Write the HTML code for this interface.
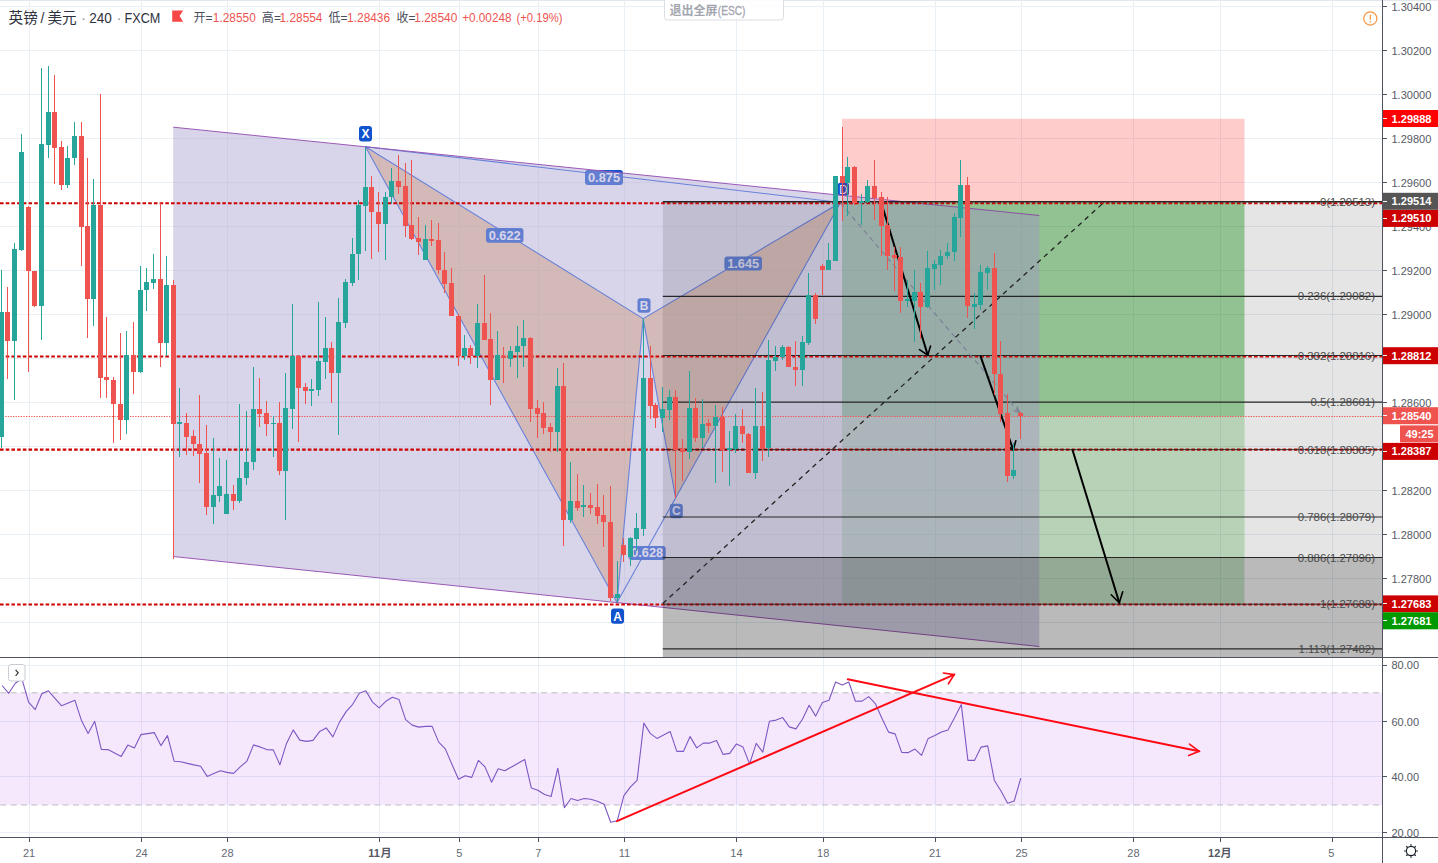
<!DOCTYPE html>
<html><head><meta charset="utf-8"><title>GBPUSD 240</title>
<style>html,body{margin:0;padding:0;background:#fff;}body{width:1438px;height:863px;overflow:hidden;position:relative;font-family:"Liberation Sans", sans-serif;}</style>
</head><body>
<svg width="1438" height="863" viewBox="0 0 1438 863" style="position:absolute;left:0;top:0;font-family:'Liberation Sans',sans-serif">
<defs>
<clipPath id="cm"><rect x="0" y="0" width="1382.5" height="657"/></clipPath>
<clipPath id="cr"><rect x="0" y="658" width="1382.5" height="179.5"/></clipPath>
<clipPath id="cch"><polygon points="173.2,127.2 1039.3,215.5 1039.3,646.5 173.2,556.5"/></clipPath>
</defs>
<rect width="1438" height="863" fill="#fff"/>
<rect x="0" y="0" width="1438" height="1" fill="#e3e8f0"/>
<g stroke="#e8eff5" stroke-width="1" shape-rendering="crispEdges">
<line x1="29.5" y1="0" x2="29.5" y2="837.5"/>
<line x1="141.5" y1="0" x2="141.5" y2="837.5"/>
<line x1="227.5" y1="0" x2="227.5" y2="837.5"/>
<line x1="379.5" y1="0" x2="379.5" y2="837.5"/>
<line x1="459.5" y1="0" x2="459.5" y2="837.5"/>
<line x1="538.5" y1="0" x2="538.5" y2="837.5"/>
<line x1="624.5" y1="0" x2="624.5" y2="837.5"/>
<line x1="736.5" y1="0" x2="736.5" y2="837.5"/>
<line x1="823.5" y1="0" x2="823.5" y2="837.5"/>
<line x1="935.5" y1="0" x2="935.5" y2="837.5"/>
<line x1="1021.5" y1="0" x2="1021.5" y2="837.5"/>
<line x1="1133.5" y1="0" x2="1133.5" y2="837.5"/>
<line x1="1220.5" y1="0" x2="1220.5" y2="837.5"/>
<line x1="1332.5" y1="0" x2="1332.5" y2="837.5"/>
<line x1="0" y1="6.5" x2="1382.5" y2="6.5"/>
<line x1="0" y1="50.5" x2="1382.5" y2="50.5"/>
<line x1="0" y1="94.5" x2="1382.5" y2="94.5"/>
<line x1="0" y1="138.5" x2="1382.5" y2="138.5"/>
<line x1="0" y1="182.5" x2="1382.5" y2="182.5"/>
<line x1="0" y1="226.5" x2="1382.5" y2="226.5"/>
<line x1="0" y1="270.5" x2="1382.5" y2="270.5"/>
<line x1="0" y1="314.5" x2="1382.5" y2="314.5"/>
<line x1="0" y1="358.5" x2="1382.5" y2="358.5"/>
<line x1="0" y1="402.5" x2="1382.5" y2="402.5"/>
<line x1="0" y1="446.5" x2="1382.5" y2="446.5"/>
<line x1="0" y1="490.5" x2="1382.5" y2="490.5"/>
<line x1="0" y1="534.5" x2="1382.5" y2="534.5"/>
<line x1="0" y1="578.5" x2="1382.5" y2="578.5"/>
<line x1="0" y1="622.5" x2="1382.5" y2="622.5"/>
<line x1="0" y1="665.5" x2="1382.5" y2="665.5"/>
<line x1="0" y1="721.5" x2="1382.5" y2="721.5"/>
<line x1="0" y1="776.5" x2="1382.5" y2="776.5"/>
<line x1="0" y1="832.5" x2="1382.5" y2="832.5"/>
</g>
<g clip-path="url(#cm)">
<polygon points="365.5,146.7 617,602.5 643.2,318.6" fill="rgba(236,146,56,0.5)"/><polygon points="643.2,318.6 675.6,498 840.5,202.5" fill="rgba(236,146,56,0.5)"/>
<g stroke="#1f5bde" stroke-width="1.1" fill="none"><polyline points="365.5,146.7 617,602.5 643.2,318.6 675.6,498 840.5,202.5"/><polyline points="365.5,146.7 643.2,318.6 840.5,202.5 365.5,146.7"/><line x1="617" y1="602.5" x2="675.6" y2="498"/></g>
<g><rect x="837.55" y="182.7" width="11.5" height="13" rx="3" fill="#1152cd"/><text x="843.3" y="193.51999999999998" font-size="12" fill="#e6e4f7" text-anchor="middle">D</text></g>
<g><rect x="359.0" y="126.05000000000001" width="13" height="15.5" rx="3" fill="#1152cd"/><text x="365.5" y="138.12" font-size="12" font-weight="bold" fill="#fff" text-anchor="middle">X</text></g>
<g><rect x="611.0" y="608.6" width="13" height="15.2" rx="3" fill="#1152cd"/><text x="617.5" y="620.5200000000001" font-size="12" font-weight="bold" fill="#fff" text-anchor="middle">A</text></g>
<g><rect x="637.5" y="298.35" width="13" height="14.5" rx="3" fill="#1152cd"/><text x="644" y="309.92" font-size="12" font-weight="bold" fill="#fff" text-anchor="middle">B</text></g>
<g><rect x="669.8" y="503.65" width="13" height="14.5" rx="3" fill="#1152cd"/><text x="676.3" y="515.22" font-size="12" font-weight="bold" fill="#fff" text-anchor="middle">C</text></g>
<g><rect x="585.0" y="170.0" width="38" height="15" rx="3" fill="#1152cd"/><text x="604" y="181.82" font-size="12" font-weight="bold" fill="#fff" text-anchor="middle" textLength="32" lengthAdjust="spacingAndGlyphs">0.875</text></g>
<g><rect x="485.95" y="227.95000000000002" width="37.5" height="14.7" rx="3" fill="#1152cd"/><text x="504.7" y="239.62" font-size="12" font-weight="bold" fill="#fff" text-anchor="middle" textLength="32" lengthAdjust="spacingAndGlyphs">0.622</text></g>
<g><rect x="724.4000000000001" y="256.5" width="37.6" height="14" rx="3" fill="#1152cd"/><text x="743.2" y="267.82" font-size="12" font-weight="bold" fill="#fff" text-anchor="middle" textLength="32" lengthAdjust="spacingAndGlyphs">1.645</text></g>
<g><rect x="628.7" y="546.0" width="37" height="14" rx="3" fill="#1152cd"/><text x="647.2" y="557.32" font-size="12" font-weight="bold" fill="#fff" text-anchor="middle" textLength="32" lengthAdjust="spacingAndGlyphs">0.628</text></g>
<rect x="842" y="118.8" width="402.5" height="83.60000000000001" fill="rgba(255,0,0,0.2)"/>
<rect x="842" y="202.4" width="402.5" height="402.1" fill="rgba(0,150,0,0.2)"/>
<rect x="842" y="202.4" width="402.5" height="213.79999999999998" fill="rgba(0,150,0,0.2)"/>
<polygon points="173.2,127.2 1039.3,215.5 1039.3,646.5 173.2,556.5" fill="rgba(178,169,212,0.5)"/>
<g stroke="#9b59b6" stroke-width="1" fill="none"><line x1="173.2" y1="127.2" x2="1039.3" y2="215.5"/><line x1="173.2" y1="556.5" x2="1039.3" y2="646.5"/></g>
<rect x="662.8" y="201.8" width="719.7" height="355.7" fill="rgba(0,0,0,0.10)"/>
<rect x="662.8" y="557.5" width="719.7" height="99.5" fill="rgba(0,0,0,0.27)"/>
<g stroke="#cc0000" stroke-width="2.1" stroke-dasharray="3.6 2.1">
<line x1="0" y1="203.2" x2="1382.5" y2="203.2"/>
<line x1="0" y1="356.5" x2="1382.5" y2="356.5"/>
<line x1="0" y1="449.6" x2="1382.5" y2="449.6"/>
<line x1="0" y1="604.5" x2="1382.5" y2="604.5"/>
</g>
<g stroke="#262626" stroke-width="1.2">
<line x1="662.8" y1="201.65" x2="1382.5" y2="201.65" stroke-width="1.5"/>
<line x1="662.8" y1="296.3" x2="1382.5" y2="296.3"/>
<line x1="662.8" y1="355.5" x2="1382.5" y2="355.5"/>
<line x1="662.8" y1="402.2" x2="1382.5" y2="402.2"/>
<line x1="662.8" y1="449.6" x2="1382.5" y2="449.6" stroke-width="0.9"/>
<line x1="662.8" y1="517.0" x2="1382.5" y2="517.0"/>
<line x1="662.8" y1="557.5" x2="1382.5" y2="557.5"/>
<line x1="662.8" y1="604.2" x2="1382.5" y2="604.2" stroke-width="0.9"/>
<line x1="662.8" y1="648.9" x2="1382.5" y2="648.9"/>
</g>
<line x1="662.8" y1="603.5" x2="1104" y2="202.3" stroke="#222" stroke-width="1.3" stroke-dasharray="4.8 4.4"/>
<g font-size="11.4" fill="#4a4a4a" text-anchor="end">
<text x="1375" y="205.8">0(1.29513)</text>
<text x="1375" y="300.3">0.236(1.29082)</text>
<text x="1375" y="359.5">0.382(1.28816)</text>
<text x="1375" y="406.2">0.5(1.28601)</text>
<text x="1375" y="453.6">0.618(1.28385)</text>
<text x="1375" y="521.0">0.786(1.28079)</text>
<text x="1375" y="561.5">0.886(1.27896)</text>
<text x="1375" y="608.2">1(1.27688)</text>
<text x="1375" y="652.9">1.113(1.27482)</text>
</g>
<line x1="0" y1="416.5" x2="1382.5" y2="416.5" stroke="#ef5350" stroke-width="1" stroke-dasharray="1.3 1.3"/>
<g stroke="#7d8196" stroke-width="1.2" fill="none"><line x1="840.5" y1="203" x2="1019" y2="412" stroke-dasharray="5 4"/><polyline points="1013.5,410.5 1019.5,412.5 1017,406.5"/></g>
<g stroke="#000" stroke-width="2" fill="none" stroke-linecap="round"><line x1="881.6" y1="203.9" x2="927.8" y2="355.2"/><polyline points="919.5,349.7 927.8,355.2 930.5,346" stroke-width="1.6"/></g>
<g stroke="#000" stroke-width="2" fill="none" stroke-linecap="round"><line x1="980.6" y1="356.4" x2="1013.3" y2="450.2"/><polyline points="1006.2,444.5 1013.3,450.2 1015.8,440.7" stroke-width="1.6"/></g>
<g stroke="#000" stroke-width="2" fill="none" stroke-linecap="round"><line x1="1072.6" y1="450.2" x2="1119.3" y2="602.8"/><polyline points="1111.2,594.8 1119.3,602.8 1122.7,591.7" stroke-width="1.6"/></g>
<g shape-rendering="crispEdges">
<rect x="1" y="270" width="1" height="178" fill="#26a69a"/><rect x="-1" y="312" width="5" height="125" fill="#26a69a"/>
<rect x="7" y="287" width="1" height="92" fill="#ef5350"/><rect x="5" y="312" width="5" height="29" fill="#ef5350"/>
<rect x="14" y="243" width="1" height="157" fill="#26a69a"/><rect x="12" y="249" width="5" height="92" fill="#26a69a"/>
<rect x="21" y="134" width="1" height="117" fill="#26a69a"/><rect x="19" y="152" width="5" height="98" fill="#26a69a"/>
<rect x="28" y="206" width="1" height="166" fill="#ef5350"/><rect x="26" y="207" width="5" height="64" fill="#ef5350"/>
<rect x="34" y="271" width="1" height="36" fill="#ef5350"/><rect x="32" y="271" width="5" height="35" fill="#ef5350"/>
<rect x="41" y="68" width="1" height="272" fill="#26a69a"/><rect x="39" y="144" width="5" height="162" fill="#26a69a"/>
<rect x="48" y="66" width="1" height="92" fill="#26a69a"/><rect x="46" y="112" width="5" height="33" fill="#26a69a"/>
<rect x="54" y="75" width="1" height="109" fill="#ef5350"/><rect x="52" y="112" width="5" height="36" fill="#ef5350"/>
<rect x="61" y="141" width="1" height="49" fill="#ef5350"/><rect x="59" y="147" width="5" height="38" fill="#ef5350"/>
<rect x="67" y="146" width="1" height="42" fill="#26a69a"/><rect x="65" y="158" width="5" height="27" fill="#26a69a"/>
<rect x="74" y="122" width="1" height="43" fill="#26a69a"/><rect x="72" y="136" width="5" height="22" fill="#26a69a"/>
<rect x="81" y="122" width="1" height="144" fill="#ef5350"/><rect x="79" y="136" width="5" height="91" fill="#ef5350"/>
<rect x="87" y="158" width="1" height="180" fill="#ef5350"/><rect x="85" y="226" width="5" height="73" fill="#ef5350"/>
<rect x="93" y="179" width="1" height="147" fill="#26a69a"/><rect x="91" y="205" width="5" height="94" fill="#26a69a"/>
<rect x="100" y="94" width="1" height="304" fill="#ef5350"/><rect x="98" y="205" width="5" height="173" fill="#ef5350"/>
<rect x="106" y="317" width="1" height="81" fill="#ef5350"/><rect x="104" y="377" width="5" height="3" fill="#ef5350"/>
<rect x="113" y="377" width="1" height="66" fill="#ef5350"/><rect x="111" y="380" width="5" height="24" fill="#ef5350"/>
<rect x="120" y="333" width="1" height="107" fill="#ef5350"/><rect x="118" y="404" width="5" height="16" fill="#ef5350"/>
<rect x="126" y="331" width="1" height="103" fill="#26a69a"/><rect x="124" y="355" width="5" height="65" fill="#26a69a"/>
<rect x="133" y="322" width="1" height="72" fill="#ef5350"/><rect x="131" y="355" width="5" height="17" fill="#ef5350"/>
<rect x="140" y="266" width="1" height="107" fill="#26a69a"/><rect x="138" y="290" width="5" height="82" fill="#26a69a"/>
<rect x="146" y="268" width="1" height="43" fill="#26a69a"/><rect x="144" y="282" width="5" height="8" fill="#26a69a"/>
<rect x="153" y="254" width="1" height="35" fill="#26a69a"/><rect x="151" y="279" width="5" height="4" fill="#26a69a"/>
<rect x="160" y="203" width="1" height="164" fill="#ef5350"/><rect x="158" y="279" width="5" height="64" fill="#ef5350"/>
<rect x="166" y="256" width="1" height="100" fill="#26a69a"/><rect x="164" y="285" width="5" height="58" fill="#26a69a"/>
<rect x="173" y="280" width="1" height="279" fill="#ef5350"/><rect x="171" y="285" width="5" height="139" fill="#ef5350"/>
<rect x="179" y="388" width="1" height="69" fill="#26a69a"/><rect x="177" y="422" width="5" height="2" fill="#26a69a"/>
<rect x="186" y="413" width="1" height="42" fill="#ef5350"/><rect x="184" y="423" width="5" height="14" fill="#ef5350"/>
<rect x="193" y="430" width="1" height="26" fill="#ef5350"/><rect x="191" y="436" width="5" height="8" fill="#ef5350"/>
<rect x="199" y="395" width="1" height="88" fill="#ef5350"/><rect x="197" y="444" width="5" height="10" fill="#ef5350"/>
<rect x="206" y="425" width="1" height="90" fill="#ef5350"/><rect x="204" y="453" width="5" height="54" fill="#ef5350"/>
<rect x="213" y="438" width="1" height="86" fill="#26a69a"/><rect x="211" y="495" width="5" height="12" fill="#26a69a"/>
<rect x="219" y="458" width="1" height="44" fill="#26a69a"/><rect x="217" y="486" width="5" height="10" fill="#26a69a"/>
<rect x="226" y="460" width="1" height="54" fill="#26a69a"/><rect x="224" y="494" width="5" height="20" fill="#26a69a"/>
<rect x="233" y="485" width="1" height="25" fill="#ef5350"/><rect x="231" y="494" width="5" height="7" fill="#ef5350"/>
<rect x="239" y="404" width="1" height="99" fill="#26a69a"/><rect x="237" y="478" width="5" height="23" fill="#26a69a"/>
<rect x="246" y="411" width="1" height="74" fill="#26a69a"/><rect x="244" y="462" width="5" height="16" fill="#26a69a"/>
<rect x="253" y="367" width="1" height="103" fill="#26a69a"/><rect x="251" y="409" width="5" height="53" fill="#26a69a"/>
<rect x="259" y="378" width="1" height="49" fill="#ef5350"/><rect x="257" y="409" width="5" height="5" fill="#ef5350"/>
<rect x="266" y="401" width="1" height="35" fill="#ef5350"/><rect x="264" y="413" width="5" height="11" fill="#ef5350"/>
<rect x="273" y="416" width="1" height="41" fill="#26a69a"/><rect x="271" y="423" width="5" height="1" fill="#26a69a"/>
<rect x="279" y="402" width="1" height="73" fill="#ef5350"/><rect x="277" y="423" width="5" height="48" fill="#ef5350"/>
<rect x="285" y="373" width="1" height="147" fill="#26a69a"/><rect x="283" y="408" width="5" height="63" fill="#26a69a"/>
<rect x="292" y="304" width="1" height="125" fill="#26a69a"/><rect x="290" y="356" width="5" height="53" fill="#26a69a"/>
<rect x="298" y="355" width="1" height="87" fill="#ef5350"/><rect x="296" y="356" width="5" height="32" fill="#ef5350"/>
<rect x="305" y="383" width="1" height="21" fill="#ef5350"/><rect x="303" y="387" width="5" height="4" fill="#ef5350"/>
<rect x="311" y="379" width="1" height="27" fill="#26a69a"/><rect x="309" y="389" width="5" height="2" fill="#26a69a"/>
<rect x="318" y="302" width="1" height="94" fill="#26a69a"/><rect x="316" y="361" width="5" height="29" fill="#26a69a"/>
<rect x="325" y="317" width="1" height="62" fill="#26a69a"/><rect x="323" y="348" width="5" height="14" fill="#26a69a"/>
<rect x="331" y="342" width="1" height="61" fill="#ef5350"/><rect x="329" y="348" width="5" height="25" fill="#ef5350"/>
<rect x="338" y="298" width="1" height="137" fill="#26a69a"/><rect x="336" y="322" width="5" height="51" fill="#26a69a"/>
<rect x="345" y="279" width="1" height="49" fill="#26a69a"/><rect x="343" y="282" width="5" height="41" fill="#26a69a"/>
<rect x="352" y="238" width="1" height="48" fill="#26a69a"/><rect x="350" y="254" width="5" height="29" fill="#26a69a"/>
<rect x="358" y="200" width="1" height="80" fill="#26a69a"/><rect x="356" y="205" width="5" height="49" fill="#26a69a"/>
<rect x="365" y="147" width="1" height="104" fill="#26a69a"/><rect x="363" y="187" width="5" height="19" fill="#26a69a"/>
<rect x="371" y="176" width="1" height="83" fill="#ef5350"/><rect x="369" y="187" width="5" height="25" fill="#ef5350"/>
<rect x="378" y="192" width="1" height="60" fill="#ef5350"/><rect x="376" y="212" width="5" height="12" fill="#ef5350"/>
<rect x="385" y="192" width="1" height="68" fill="#26a69a"/><rect x="383" y="197" width="5" height="27" fill="#26a69a"/>
<rect x="391" y="168" width="1" height="36" fill="#26a69a"/><rect x="389" y="181" width="5" height="16" fill="#26a69a"/>
<rect x="398" y="155" width="1" height="39" fill="#ef5350"/><rect x="396" y="181" width="5" height="6" fill="#ef5350"/>
<rect x="405" y="163" width="1" height="74" fill="#ef5350"/><rect x="403" y="186" width="5" height="40" fill="#ef5350"/>
<rect x="411" y="160" width="1" height="80" fill="#ef5350"/><rect x="409" y="225" width="5" height="14" fill="#ef5350"/>
<rect x="418" y="217" width="1" height="38" fill="#ef5350"/><rect x="416" y="238" width="5" height="4" fill="#ef5350"/>
<rect x="425" y="225" width="1" height="35" fill="#26a69a"/><rect x="423" y="239" width="5" height="21" fill="#26a69a"/>
<rect x="431" y="220" width="1" height="26" fill="#ef5350"/><rect x="429" y="239" width="5" height="2" fill="#ef5350"/>
<rect x="438" y="223" width="1" height="51" fill="#ef5350"/><rect x="436" y="240" width="5" height="30" fill="#ef5350"/>
<rect x="444" y="252" width="1" height="41" fill="#ef5350"/><rect x="442" y="270" width="5" height="14" fill="#ef5350"/>
<rect x="451" y="268" width="1" height="48" fill="#ef5350"/><rect x="449" y="283" width="5" height="33" fill="#ef5350"/>
<rect x="458" y="314" width="1" height="52" fill="#ef5350"/><rect x="456" y="316" width="5" height="40" fill="#ef5350"/>
<rect x="464" y="335" width="1" height="25" fill="#26a69a"/><rect x="462" y="348" width="5" height="8" fill="#26a69a"/>
<rect x="470" y="345" width="1" height="19" fill="#ef5350"/><rect x="468" y="348" width="5" height="8" fill="#ef5350"/>
<rect x="477" y="304" width="1" height="64" fill="#26a69a"/><rect x="475" y="323" width="5" height="33" fill="#26a69a"/>
<rect x="484" y="275" width="1" height="65" fill="#ef5350"/><rect x="482" y="323" width="5" height="17" fill="#ef5350"/>
<rect x="490" y="313" width="1" height="92" fill="#ef5350"/><rect x="488" y="339" width="5" height="41" fill="#ef5350"/>
<rect x="497" y="331" width="1" height="49" fill="#26a69a"/><rect x="495" y="355" width="5" height="25" fill="#26a69a"/>
<rect x="503" y="347" width="1" height="36" fill="#ef5350"/><rect x="501" y="356" width="5" height="2" fill="#ef5350"/>
<rect x="510" y="346" width="1" height="21" fill="#26a69a"/><rect x="508" y="351" width="5" height="8" fill="#26a69a"/>
<rect x="517" y="326" width="1" height="52" fill="#26a69a"/><rect x="515" y="346" width="5" height="6" fill="#26a69a"/>
<rect x="523" y="320" width="1" height="47" fill="#26a69a"/><rect x="521" y="338" width="5" height="8" fill="#26a69a"/>
<rect x="530" y="337" width="1" height="85" fill="#ef5350"/><rect x="528" y="338" width="5" height="71" fill="#ef5350"/>
<rect x="537" y="400" width="1" height="38" fill="#ef5350"/><rect x="535" y="408" width="5" height="6" fill="#ef5350"/>
<rect x="543" y="402" width="1" height="32" fill="#ef5350"/><rect x="541" y="413" width="5" height="15" fill="#ef5350"/>
<rect x="550" y="423" width="1" height="29" fill="#ef5350"/><rect x="548" y="427" width="5" height="5" fill="#ef5350"/>
<rect x="557" y="368" width="1" height="84" fill="#26a69a"/><rect x="555" y="386" width="5" height="46" fill="#26a69a"/>
<rect x="563" y="363" width="1" height="183" fill="#ef5350"/><rect x="561" y="386" width="5" height="134" fill="#ef5350"/>
<rect x="570" y="462" width="1" height="61" fill="#26a69a"/><rect x="568" y="501" width="5" height="19" fill="#26a69a"/>
<rect x="577" y="474" width="1" height="37" fill="#ef5350"/><rect x="575" y="501" width="5" height="7" fill="#ef5350"/>
<rect x="583" y="485" width="1" height="32" fill="#26a69a"/><rect x="581" y="505" width="5" height="2" fill="#26a69a"/>
<rect x="590" y="493" width="1" height="21" fill="#ef5350"/><rect x="588" y="505" width="5" height="3" fill="#ef5350"/>
<rect x="597" y="484" width="1" height="40" fill="#ef5350"/><rect x="595" y="507" width="5" height="9" fill="#ef5350"/>
<rect x="603" y="495" width="1" height="52" fill="#ef5350"/><rect x="601" y="515" width="5" height="7" fill="#ef5350"/>
<rect x="610" y="486" width="1" height="115" fill="#ef5350"/><rect x="608" y="522" width="5" height="76" fill="#ef5350"/>
<rect x="617" y="561" width="1" height="41" fill="#26a69a"/><rect x="615" y="594" width="5" height="4" fill="#26a69a"/>
<rect x="623" y="538" width="1" height="24" fill="#ef5350"/><rect x="621" y="545" width="5" height="10" fill="#ef5350"/>
<rect x="630" y="537" width="1" height="29" fill="#26a69a"/><rect x="628" y="538" width="5" height="19" fill="#26a69a"/>
<rect x="636" y="513" width="1" height="38" fill="#26a69a"/><rect x="634" y="528" width="5" height="11" fill="#26a69a"/>
<rect x="643" y="319" width="1" height="217" fill="#26a69a"/><rect x="641" y="378" width="5" height="151" fill="#26a69a"/>
<rect x="650" y="346" width="1" height="73" fill="#ef5350"/><rect x="648" y="378" width="5" height="28" fill="#ef5350"/>
<rect x="655" y="403" width="1" height="25" fill="#ef5350"/><rect x="653" y="405" width="5" height="13" fill="#ef5350"/>
<rect x="662" y="387" width="1" height="45" fill="#26a69a"/><rect x="660" y="409" width="5" height="9" fill="#26a69a"/>
<rect x="669" y="390" width="1" height="30" fill="#26a69a"/><rect x="667" y="397" width="5" height="13" fill="#26a69a"/>
<rect x="675" y="390" width="1" height="108" fill="#ef5350"/><rect x="673" y="397" width="5" height="53" fill="#ef5350"/>
<rect x="682" y="439" width="1" height="42" fill="#ef5350"/><rect x="680" y="449" width="5" height="3" fill="#ef5350"/>
<rect x="689" y="371" width="1" height="88" fill="#26a69a"/><rect x="687" y="408" width="5" height="44" fill="#26a69a"/>
<rect x="695" y="398" width="1" height="44" fill="#ef5350"/><rect x="693" y="408" width="5" height="30" fill="#ef5350"/>
<rect x="702" y="399" width="1" height="49" fill="#26a69a"/><rect x="700" y="424" width="5" height="14" fill="#26a69a"/>
<rect x="708" y="419" width="1" height="14" fill="#ef5350"/><rect x="706" y="423" width="5" height="3" fill="#ef5350"/>
<rect x="715" y="405" width="1" height="78" fill="#26a69a"/><rect x="713" y="417" width="5" height="9" fill="#26a69a"/>
<rect x="722" y="407" width="1" height="65" fill="#ef5350"/><rect x="720" y="417" width="5" height="33" fill="#ef5350"/>
<rect x="729" y="431" width="1" height="55" fill="#26a69a"/><rect x="727" y="448" width="5" height="2" fill="#26a69a"/>
<rect x="735" y="414" width="1" height="39" fill="#26a69a"/><rect x="733" y="426" width="5" height="23" fill="#26a69a"/>
<rect x="742" y="409" width="1" height="34" fill="#ef5350"/><rect x="740" y="426" width="5" height="8" fill="#ef5350"/>
<rect x="748" y="433" width="1" height="40" fill="#ef5350"/><rect x="746" y="434" width="5" height="39" fill="#ef5350"/>
<rect x="755" y="388" width="1" height="91" fill="#26a69a"/><rect x="753" y="426" width="5" height="47" fill="#26a69a"/>
<rect x="762" y="392" width="1" height="69" fill="#ef5350"/><rect x="760" y="426" width="5" height="23" fill="#ef5350"/>
<rect x="768" y="340" width="1" height="117" fill="#26a69a"/><rect x="766" y="360" width="5" height="88" fill="#26a69a"/>
<rect x="775" y="346" width="1" height="25" fill="#26a69a"/><rect x="773" y="357" width="5" height="4" fill="#26a69a"/>
<rect x="782" y="345" width="1" height="15" fill="#26a69a"/><rect x="780" y="347" width="5" height="10" fill="#26a69a"/>
<rect x="788" y="346" width="1" height="21" fill="#ef5350"/><rect x="786" y="347" width="5" height="20" fill="#ef5350"/>
<rect x="795" y="341" width="1" height="45" fill="#ef5350"/><rect x="793" y="367" width="5" height="3" fill="#ef5350"/>
<rect x="802" y="336" width="1" height="50" fill="#26a69a"/><rect x="800" y="342" width="5" height="28" fill="#26a69a"/>
<rect x="808" y="273" width="1" height="72" fill="#26a69a"/><rect x="806" y="295" width="5" height="48" fill="#26a69a"/>
<rect x="815" y="293" width="1" height="31" fill="#ef5350"/><rect x="813" y="295" width="5" height="24" fill="#ef5350"/>
<rect x="822" y="264" width="1" height="31" fill="#ef5350"/><rect x="820" y="266" width="5" height="4" fill="#ef5350"/>
<rect x="828" y="243" width="1" height="27" fill="#26a69a"/><rect x="826" y="260" width="5" height="10" fill="#26a69a"/>
<rect x="835" y="176" width="1" height="85" fill="#26a69a"/><rect x="833" y="176" width="5" height="85" fill="#26a69a"/>
<rect x="842" y="127" width="1" height="94" fill="#ef5350"/><rect x="840" y="176" width="5" height="7" fill="#ef5350"/>
<rect x="847" y="157" width="1" height="59" fill="#26a69a"/><rect x="845" y="167" width="5" height="16" fill="#26a69a"/>
<rect x="854" y="166" width="1" height="39" fill="#ef5350"/><rect x="852" y="167" width="5" height="36" fill="#ef5350"/>
<rect x="861" y="194" width="1" height="31" fill="#26a69a"/><rect x="859" y="201" width="5" height="2" fill="#26a69a"/>
<rect x="867" y="180" width="1" height="23" fill="#26a69a"/><rect x="865" y="186" width="5" height="16" fill="#26a69a"/>
<rect x="874" y="160" width="1" height="60" fill="#ef5350"/><rect x="872" y="186" width="5" height="12" fill="#ef5350"/>
<rect x="881" y="192" width="1" height="64" fill="#ef5350"/><rect x="879" y="197" width="5" height="29" fill="#ef5350"/>
<rect x="887" y="197" width="1" height="73" fill="#ef5350"/><rect x="885" y="225" width="5" height="31" fill="#ef5350"/>
<rect x="894" y="247" width="1" height="44" fill="#ef5350"/><rect x="892" y="255" width="5" height="3" fill="#ef5350"/>
<rect x="900" y="247" width="1" height="66" fill="#ef5350"/><rect x="898" y="257" width="5" height="44" fill="#ef5350"/>
<rect x="907" y="280" width="1" height="27" fill="#26a69a"/><rect x="905" y="299" width="5" height="2" fill="#26a69a"/>
<rect x="914" y="270" width="1" height="72" fill="#26a69a"/><rect x="912" y="292" width="5" height="9" fill="#26a69a"/>
<rect x="920" y="283" width="1" height="56" fill="#ef5350"/><rect x="918" y="292" width="5" height="15" fill="#ef5350"/>
<rect x="927" y="251" width="1" height="57" fill="#26a69a"/><rect x="925" y="268" width="5" height="39" fill="#26a69a"/>
<rect x="934" y="260" width="1" height="30" fill="#26a69a"/><rect x="932" y="264" width="5" height="5" fill="#26a69a"/>
<rect x="940" y="250" width="1" height="35" fill="#26a69a"/><rect x="938" y="256" width="5" height="9" fill="#26a69a"/>
<rect x="947" y="243" width="1" height="16" fill="#26a69a"/><rect x="945" y="252" width="5" height="4" fill="#26a69a"/>
<rect x="954" y="213" width="1" height="48" fill="#26a69a"/><rect x="952" y="217" width="5" height="35" fill="#26a69a"/>
<rect x="960" y="160" width="1" height="77" fill="#26a69a"/><rect x="958" y="185" width="5" height="33" fill="#26a69a"/>
<rect x="967" y="177" width="1" height="141" fill="#ef5350"/><rect x="965" y="185" width="5" height="121" fill="#ef5350"/>
<rect x="974" y="293" width="1" height="36" fill="#26a69a"/><rect x="972" y="304" width="5" height="3" fill="#26a69a"/>
<rect x="980" y="265" width="1" height="45" fill="#26a69a"/><rect x="978" y="272" width="5" height="33" fill="#26a69a"/>
<rect x="987" y="266" width="1" height="24" fill="#26a69a"/><rect x="985" y="268" width="5" height="5" fill="#26a69a"/>
<rect x="994" y="253" width="1" height="142" fill="#ef5350"/><rect x="992" y="268" width="5" height="106" fill="#ef5350"/>
<rect x="1000" y="341" width="1" height="81" fill="#ef5350"/><rect x="998" y="374" width="5" height="40" fill="#ef5350"/>
<rect x="1007" y="394" width="1" height="88" fill="#ef5350"/><rect x="1005" y="413" width="5" height="63" fill="#ef5350"/>
<rect x="1013" y="443" width="1" height="36" fill="#26a69a"/><rect x="1011" y="470" width="5" height="6" fill="#26a69a"/>
<rect x="1020" y="412" width="1" height="27" fill="#ef5350"/><rect x="1018" y="413" width="5" height="3" fill="#ef5350"/>
</g>
</g>
<g clip-path="url(#cr)">
<rect x="0" y="692.8" width="1382.5" height="112.20000000000005" fill="rgba(156,39,240,0.105)"/>
<g stroke="#bdbdbd" stroke-width="1" stroke-dasharray="5.8 4.6" stroke-dashoffset="-0.3"><line x1="0" y1="692.8" x2="1382.5" y2="692.8"/><line x1="0" y1="805" x2="1382.5" y2="805"/></g>
<polyline points="2.1,685.5 8.7,693.3 15.3,683.3 21.9,678.8 28.6,702.1 35.2,709.6 41.8,693.8 48.4,690.8 55.0,698.3 61.6,705.8 68.2,703.1 74.9,700.3 81.5,720.6 88.1,733.4 94.7,721.3 101.3,749.4 107.9,749.6 114.6,753.1 121.2,756.4 127.8,745.1 134.4,747.9 141.0,734.6 147.6,733.6 154.2,732.6 160.9,745.6 167.5,735.6 174.1,761.2 180.7,761.7 187.3,763.4 193.9,764.9 200.6,766.2 207.2,776.4 213.8,773.4 220.4,770.7 227.0,772.4 233.6,773.4 240.2,766.9 246.9,761.2 253.5,744.9 260.1,746.9 266.7,749.6 273.3,749.9 279.9,764.7 286.5,743.4 293.2,729.9 299.8,740.1 306.4,741.4 313.0,740.4 319.6,731.6 326.2,727.9 332.9,736.9 339.5,722.1 346.1,711.6 352.7,704.3 359.3,693.3 365.9,690.8 372.5,702.1 379.2,707.8 385.8,701.3 392.4,697.3 399.0,699.6 405.6,719.6 412.2,725.1 418.8,727.1 425.5,726.4 432.1,726.4 438.7,742.1 445.3,748.9 451.9,764.2 458.5,779.2 465.2,775.7 471.8,777.4 478.4,760.4 485.0,766.9 491.6,782.2 498.2,768.7 504.8,770.7 511.5,766.9 518.1,763.2 524.7,759.4 531.3,787.9 537.9,790.2 544.5,794.5 551.1,796.5 557.8,768.2 564.4,807.7 571.0,798.5 577.6,800.5 584.2,798.5 590.8,799.2 597.4,801.2 604.1,804.2 610.7,822.3 617.3,820.7 623.9,795.7 630.5,786.9 637.1,780.4 643.8,723.1 650.4,733.6 657.0,738.4 663.6,735.1 670.2,731.6 676.8,751.4 683.4,751.4 690.1,736.6 696.7,747.9 703.3,743.1 709.9,743.1 716.5,740.6 723.1,754.4 729.7,753.4 736.4,743.9 743.0,747.1 749.6,763.9 756.2,743.4 762.8,752.1 769.4,721.3 776.1,720.1 782.7,717.6 789.3,726.9 795.9,728.9 802.5,719.3 809.1,705.3 815.7,716.1 822.4,702.6 829.0,700.3 835.6,682.0 842.2,685.0 848.8,682.0 855.4,701.3 862.0,701.1 868.7,696.6 875.3,703.6 881.9,718.3 888.5,732.1 895.1,733.9 901.7,752.4 908.4,752.6 915.0,749.1 921.6,755.4 928.2,738.4 934.8,735.6 941.4,732.1 948.0,729.9 954.7,717.6 961.3,704.6 967.9,760.4 974.5,760.4 981.1,747.1 987.7,745.9 994.3,780.2 1001.0,791.0 1007.6,803.2 1014.2,801.0 1020.8,778.2" fill="none" stroke="#7e57c2" stroke-width="1.1" stroke-linejoin="round"/>
<g stroke="#ff0a14" stroke-width="2" fill="none" stroke-linecap="round"><line x1="616.9" y1="821.2" x2="954.2" y2="674.6"/><polyline points="943.4,673 954.2,674.6 948.4,683.8" stroke-width="1.6"/></g>
<g stroke="#ff0a14" stroke-width="2" fill="none" stroke-linecap="round"><line x1="847.8" y1="679.3" x2="1199.1" y2="751.3"/><polyline points="1189.5,744.1 1199.1,751.3 1188.6,755.5" stroke-width="1.6"/></g>
</g>
<rect x="8.5" y="664.5" width="16.5" height="16.5" rx="2.5" fill="#fff" stroke="#c9ccd3" stroke-width="1"/>
<polyline points="15.6,669.8 18.2,672.8 15.6,675.8" fill="none" stroke="#333" stroke-width="1.2"/>
<g fill="#4f5360" shape-rendering="crispEdges">
<rect x="0" y="657" width="1438" height="1"/>
<rect x="0" y="837" width="1438" height="1"/>
<rect x="1382" y="0" width="1" height="863"/>
</g>
<g stroke="#4f5360" stroke-width="1" shape-rendering="crispEdges">
<line x1="1383" y1="6.5" x2="1387" y2="6.5"/>
<line x1="1383" y1="50.5" x2="1387" y2="50.5"/>
<line x1="1383" y1="94.5" x2="1387" y2="94.5"/>
<line x1="1383" y1="138.5" x2="1387" y2="138.5"/>
<line x1="1383" y1="182.5" x2="1387" y2="182.5"/>
<line x1="1383" y1="226.5" x2="1387" y2="226.5"/>
<line x1="1383" y1="270.5" x2="1387" y2="270.5"/>
<line x1="1383" y1="314.5" x2="1387" y2="314.5"/>
<line x1="1383" y1="358.5" x2="1387" y2="358.5"/>
<line x1="1383" y1="402.5" x2="1387" y2="402.5"/>
<line x1="1383" y1="446.5" x2="1387" y2="446.5"/>
<line x1="1383" y1="490.5" x2="1387" y2="490.5"/>
<line x1="1383" y1="534.5" x2="1387" y2="534.5"/>
<line x1="1383" y1="578.5" x2="1387" y2="578.5"/>
<line x1="1383" y1="622.5" x2="1387" y2="622.5"/>
<line x1="1383" y1="665.5" x2="1387" y2="665.5"/>
<line x1="1383" y1="721.5" x2="1387" y2="721.5"/>
<line x1="1383" y1="776.5" x2="1387" y2="776.5"/>
<line x1="1383" y1="832.5" x2="1387" y2="832.5"/>
<line x1="29.5" y1="838" x2="29.5" y2="842"/>
<line x1="141.5" y1="838" x2="141.5" y2="842"/>
<line x1="227.5" y1="838" x2="227.5" y2="842"/>
<line x1="379.5" y1="838" x2="379.5" y2="842"/>
<line x1="459.5" y1="838" x2="459.5" y2="842"/>
<line x1="538.5" y1="838" x2="538.5" y2="842"/>
<line x1="624.5" y1="838" x2="624.5" y2="842"/>
<line x1="736.5" y1="838" x2="736.5" y2="842"/>
<line x1="823.5" y1="838" x2="823.5" y2="842"/>
<line x1="935.5" y1="838" x2="935.5" y2="842"/>
<line x1="1021.5" y1="838" x2="1021.5" y2="842"/>
<line x1="1133.5" y1="838" x2="1133.5" y2="842"/>
<line x1="1220.5" y1="838" x2="1220.5" y2="842"/>
<line x1="1332.5" y1="838" x2="1332.5" y2="842"/>
</g>
<g font-size="11" fill="#555963">
<text x="1391.5" y="10.5">1.30400</text>
<text x="1391.5" y="54.6">1.30200</text>
<text x="1391.5" y="98.6">1.30000</text>
<text x="1391.5" y="142.6">1.29800</text>
<text x="1391.5" y="186.7">1.29600</text>
<text x="1391.5" y="230.7">1.29400</text>
<text x="1391.5" y="274.7">1.29200</text>
<text x="1391.5" y="318.7">1.29000</text>
<text x="1391.5" y="362.8">1.28800</text>
<text x="1391.5" y="406.8">1.28600</text>
<text x="1391.5" y="450.8">1.28400</text>
<text x="1391.5" y="494.9">1.28200</text>
<text x="1391.5" y="538.9">1.28000</text>
<text x="1391.5" y="582.9">1.27800</text>
<text x="1391.5" y="626.9">1.27600</text>
<text x="1391.5" y="669.3">80.00</text>
<text x="1391.5" y="725.6">60.00</text>
<text x="1391.5" y="780.7">40.00</text>
<text x="1391.5" y="836.5">20.00</text>
</g>
<rect x="1383" y="110.0" width="55" height="17" fill="#ff0000"/><rect x="1383" y="118" width="4" height="1" fill="#fff"/><text x="1391.5" y="122.5" font-size="11" font-weight="bold" fill="#fff" textLength="40" lengthAdjust="spacingAndGlyphs">1.29888</text>
<rect x="1383" y="192.8" width="55" height="17" fill="#555555"/><rect x="1383" y="201" width="4" height="1" fill="#fff"/><text x="1391.5" y="205.3" font-size="11" font-weight="bold" fill="#fff" textLength="40" lengthAdjust="spacingAndGlyphs">1.29514</text>
<rect x="1383" y="209.9" width="55" height="17" fill="#cc0000"/><rect x="1383" y="218" width="4" height="1" fill="#fff"/><text x="1391.5" y="222.4" font-size="11" font-weight="bold" fill="#fff" textLength="40" lengthAdjust="spacingAndGlyphs">1.29510</text>
<rect x="1383" y="347.2" width="55" height="17" fill="#cc0000"/><rect x="1383" y="355" width="4" height="1" fill="#fff"/><text x="1391.5" y="359.7" font-size="11" font-weight="bold" fill="#fff" textLength="40" lengthAdjust="spacingAndGlyphs">1.28812</text>
<rect x="1383" y="407.2" width="55" height="17" fill="#ef5350"/><rect x="1383" y="415" width="4" height="1" fill="#fff"/><text x="1391.5" y="419.7" font-size="11" font-weight="bold" fill="#fff" textLength="40" lengthAdjust="spacingAndGlyphs">1.28540</text>
<rect x="1400" y="425.4" width="38" height="17" fill="#ef5350"/><text x="1419.5" y="437.9" font-size="11" font-weight="bold" fill="#fff" text-anchor="middle">49:25</text>
<rect x="1383" y="442.9" width="55" height="17" fill="#cc0000"/><rect x="1383" y="451" width="4" height="1" fill="#fff"/><text x="1391.5" y="455.4" font-size="11" font-weight="bold" fill="#fff" textLength="40" lengthAdjust="spacingAndGlyphs">1.28387</text>
<rect x="1383" y="595.4" width="55" height="17" fill="#cc0000"/><rect x="1383" y="603" width="4" height="1" fill="#fff"/><text x="1391.5" y="607.9" font-size="11" font-weight="bold" fill="#fff" textLength="40" lengthAdjust="spacingAndGlyphs">1.27683</text>
<rect x="1383" y="612.3" width="55" height="17" fill="#009a00"/><rect x="1383" y="620" width="4" height="1" fill="#fff"/><text x="1391.5" y="624.8" font-size="11" font-weight="bold" fill="#fff" textLength="40" lengthAdjust="spacingAndGlyphs">1.27681</text>
<g font-size="11" fill="#666a75" text-anchor="middle">
<text x="29" y="857">21</text>
<text x="141.5" y="857">24</text>
<text x="227.4" y="857">28</text>
<text x="459.4" y="857">5</text>
<text x="538.3" y="857">7</text>
<text x="624.5" y="857">11</text>
<text x="736.4" y="857">14</text>
<text x="823.2" y="857">18</text>
<text x="935" y="857">21</text>
<text x="1021.5" y="857">25</text>
<text x="1133.4" y="857">28</text>
<text x="1331.2" y="857">5</text>
</g>
<text x="374.1" y="857" font-size="11" font-weight="bold" fill="#555963" text-anchor="middle">11</text>
<text x="380.4" y="856.6" font-size="11" font-weight="bold" fill="#555963" font-family="'Liberation Sans','Noto Sans CJK SC',sans-serif">月</text>
<text x="1214.2" y="857" font-size="11" font-weight="bold" fill="#555963" text-anchor="middle">12</text>
<text x="1220.5" y="856.6" font-size="11" font-weight="bold" fill="#555963" font-family="'Liberation Sans','Noto Sans CJK SC',sans-serif">月</text>
<g fill="none"><circle cx="1411" cy="851" r="4.6" stroke="#131722" stroke-width="1.15"/>
<line x1="1416.00" y1="851.00" x2="1418.00" y2="851.00" stroke="#6f7380" stroke-width="1.6"/>
<line x1="1414.46" y1="854.46" x2="1415.67" y2="855.67" stroke="#131722" stroke-width="1.3"/>
<line x1="1411.00" y1="856.00" x2="1411.00" y2="858.00" stroke="#6f7380" stroke-width="1.6"/>
<line x1="1407.54" y1="854.46" x2="1406.33" y2="855.67" stroke="#131722" stroke-width="1.3"/>
<line x1="1406.00" y1="851.00" x2="1404.00" y2="851.00" stroke="#6f7380" stroke-width="1.6"/>
<line x1="1407.54" y1="847.54" x2="1406.33" y2="846.33" stroke="#131722" stroke-width="1.3"/>
<line x1="1411.00" y1="846.00" x2="1411.00" y2="844.00" stroke="#6f7380" stroke-width="1.6"/>
<line x1="1414.46" y1="847.54" x2="1415.67" y2="846.33" stroke="#131722" stroke-width="1.3"/>
</g>
<text x="8.6" y="22.6" font-size="14.6" fill="#2f3241" font-family="'Liberation Sans','Noto Sans CJK SC',sans-serif" textLength="29.2" lengthAdjust="spacingAndGlyphs">英镑</text>
<text x="40.6" y="23" font-size="14" fill="#2f3241">/</text>
<text x="47.4" y="22.6" font-size="14.6" fill="#2f3241" font-family="'Liberation Sans','Noto Sans CJK SC',sans-serif" textLength="29.2" lengthAdjust="spacingAndGlyphs">美元</text>
<text x="81.3" y="22.5" font-size="14" fill="#8a8d99">·</text>
<text x="89.2" y="23" font-size="14" fill="#2f3241" textLength="22.6" lengthAdjust="spacingAndGlyphs">240</text>
<text x="116.8" y="22.5" font-size="14" fill="#8a8d99">·</text>
<text x="124.6" y="23" font-size="14" fill="#2f3241" textLength="35.8" lengthAdjust="spacingAndGlyphs">FXCM</text>
<path d="M172.2 10.4 H183.2 L179.6 16.1 L183.2 21.8 H172.2 Z" fill="#f74848"/>
<text x="193.4" y="22.2" font-size="12" fill="#4a4d5a" font-family="'Liberation Sans','Noto Sans CJK SC',sans-serif">开</text>
<text x="205.6" y="22.4" font-size="12" fill="#4a4d5a">=</text>
<text x="212.8" y="22.4" font-size="12" fill="#ef5350" textLength="43" lengthAdjust="spacingAndGlyphs">1.28550</text>
<text x="261.8" y="22.2" font-size="12" fill="#4a4d5a" font-family="'Liberation Sans','Noto Sans CJK SC',sans-serif">高</text>
<text x="274.0" y="22.4" font-size="12" fill="#4a4d5a">=</text>
<text x="279.5" y="22.4" font-size="12" fill="#ef5350" textLength="43" lengthAdjust="spacingAndGlyphs">1.28554</text>
<text x="328.4" y="22.2" font-size="12" fill="#4a4d5a" font-family="'Liberation Sans','Noto Sans CJK SC',sans-serif">低</text>
<text x="340.59999999999997" y="22.4" font-size="12" fill="#4a4d5a">=</text>
<text x="347.1" y="22.4" font-size="12" fill="#ef5350" textLength="43" lengthAdjust="spacingAndGlyphs">1.28436</text>
<text x="396.4" y="22.2" font-size="12" fill="#4a4d5a" font-family="'Liberation Sans','Noto Sans CJK SC',sans-serif">收</text>
<text x="408.59999999999997" y="22.4" font-size="12" fill="#4a4d5a">=</text>
<text x="414.3" y="22.4" font-size="12" fill="#ef5350" textLength="43" lengthAdjust="spacingAndGlyphs">1.28540</text>
<text x="462.2" y="22.4" font-size="12" fill="#ef5350" textLength="49.3" lengthAdjust="spacingAndGlyphs">+0.00248</text>
<text x="516.5" y="22.4" font-size="12" fill="#ef5350" textLength="46" lengthAdjust="spacingAndGlyphs">(+0.19%)</text>
<rect x="664.5" y="-3" width="119" height="23" rx="2.5" fill="rgba(255,255,255,0.85)" stroke="#dcdee3" stroke-width="1"/>
<text x="669.5" y="14.9" font-size="12" font-weight="bold" fill="#a3a6af" font-family="'Liberation Sans','Noto Sans CJK SC',sans-serif" textLength="48" lengthAdjust="spacingAndGlyphs">退出全屏</text>
<text x="717.8" y="15.3" font-size="12" fill="#a3a6af" stroke="#a3a6af" stroke-width="0.3" textLength="27.5" lengthAdjust="spacingAndGlyphs">(ESC)</text>
<g><circle cx="1370.3" cy="18.5" r="6.6" fill="none" stroke="#f5923e" stroke-width="1.2"/><rect x="1369.7" y="14.6" width="1.2" height="5.2" fill="#f5923e"/><rect x="1369.7" y="21" width="1.2" height="1.4" fill="#f5923e"/></g>
</svg>
</body></html>
